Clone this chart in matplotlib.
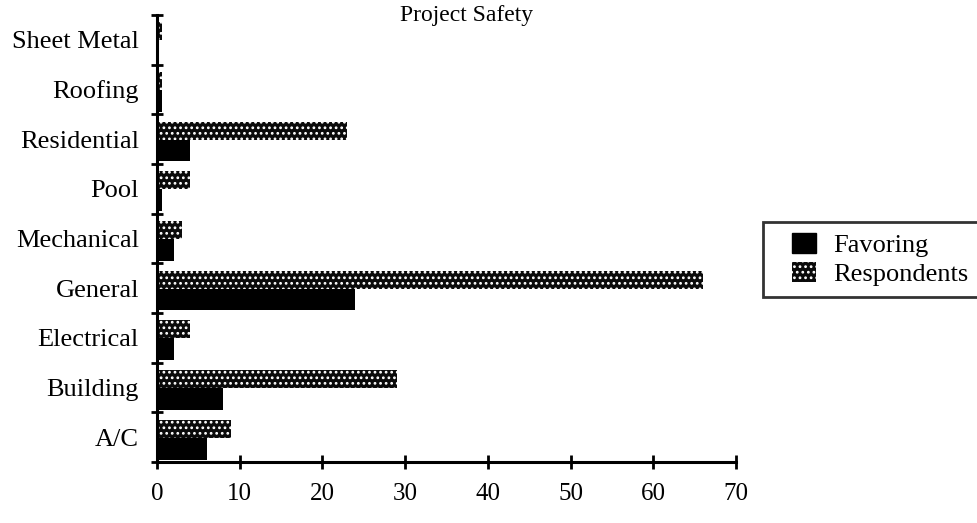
import matplotlib
matplotlib.use("Agg")
import matplotlib.pyplot as plt
import numpy as np
from matplotlib.patches import Patch, Rectangle
from matplotlib.legend_handler import HandlerPatch

categories = ["A/C", "Building", "Electrical", "General", "Mechanical",
              "Pool", "Residential", "Roofing", "Sheet Metal"]
favoring = [6, 8, 2, 24, 2, 0.6, 4, 0.6, 0]
respondents = [9, 29, 4, 66, 3, 4, 23, 0.6, 0.6]
xticks = [0, 10, 20, 30, 40, 50, 60, 70]

plt.rcParams['font.family'] = ['Liberation Serif', 'DejaVu Serif']
plt.rcParams['hatch.linewidth'] = 1.2

fig = plt.figure(figsize=(9.78, 5.23), dpi=100)
ax = fig.add_axes([0.1605, 0.1166, 0.592, 0.855])

y = np.arange(len(categories))
h_f = 0.44
h_r = 0.36
ax.barh(y - 0.45, favoring, height=h_f, align='edge', color='black', linewidth=0)
ax.barh(y - 0.01, respondents, height=h_r, align='edge', color='#0a0a0a',
        edgecolor='white', hatch='...', linewidth=0)

ax.set_xlim(0, 70)
ax.set_ylim(-0.5, len(categories) - 0.5)
ax.set_xticks(xticks)
ax.set_xticklabels([str(v) for v in xticks], fontsize=18)
ax.set_yticks(y)
ax.set_yticklabels(categories, fontsize=19)
ax.set_yticks(np.arange(-0.5, len(categories), 1), minor=True)
ax.tick_params(axis='y', which='major', length=0, pad=13)
ax.tick_params(axis='y', which='minor', length=8, width=2, direction='inout')
ax.tick_params(axis='x', which='major', length=10, width=2, direction='inout', pad=10)

for s in ['top', 'right']:
    ax.spines[s].set_visible(False)
for s in ['left', 'bottom']:
    ax.spines[s].set_linewidth(2.2)

fig.text(467 / 978, 1 - 16 / 523, "Project Safety", fontsize=17,
         ha='center', va='center')


def square_handle(legend, orig_handle, xdescent, ydescent, width, height, fontsize):
    rw = width * 0.55
    return Rectangle((-xdescent + width - rw, -ydescent), rw, height)


handles = [Patch(facecolor='black', edgecolor='black', label='Favoring'),
           Patch(facecolor='#0a0a0a', edgecolor='white', hatch='...', linewidth=0,
                 label='Respondents')]
hm = {h: HandlerPatch(patch_func=square_handle) for h in handles}
leg = fig.legend(handles=handles, loc='upper left', bbox_to_anchor=(0.780, 0.5755),
                 fontsize=19, frameon=True, fancybox=False, edgecolor='black',
                 handlelength=1.6, handleheight=0.8, handletextpad=0.65,
                 labelspacing=0.2, borderpad=0.4, borderaxespad=0,
                 handler_map=hm)
leg.get_frame().set_linewidth(2)

fig.savefig("out.png", dpi=100)
